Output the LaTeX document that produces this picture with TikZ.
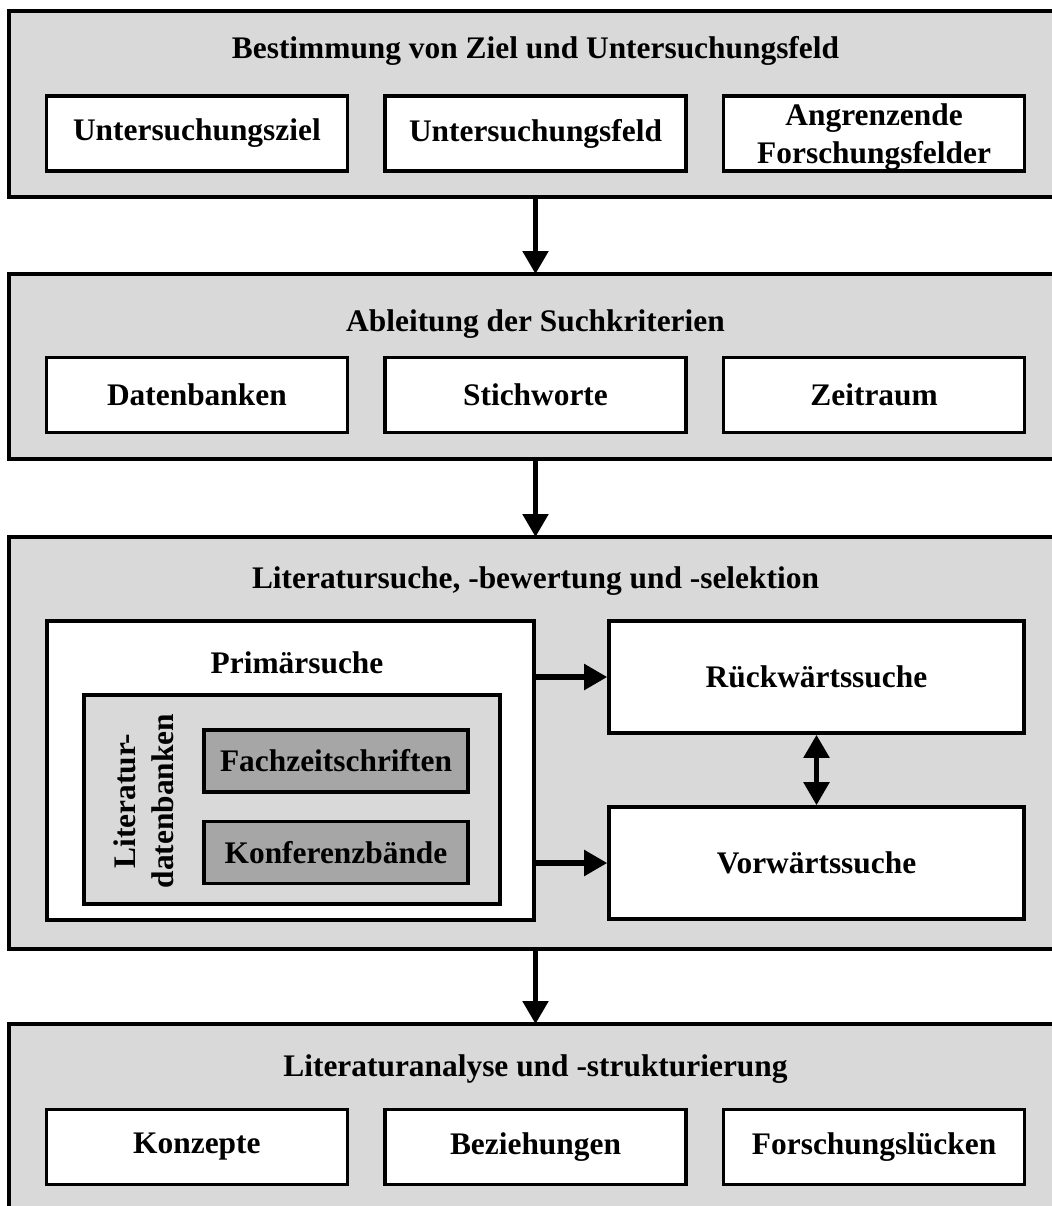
\documentclass[tikz,border=0pt]{standalone}
\usepackage{fontspec}
\setmainfont{Liberation Serif}
\usepackage{tikz}
\usetikzlibrary{arrows.meta,positioning,calc}
\definecolor{panelgray}{RGB}{217,217,217}
\definecolor{boxgray}{RGB}{166,166,166}

\begin{document}
\begin{tikzpicture}[x=0.5pt,y=-0.5pt,node distance=17pt,font=\fontsize{15.7}{19}\selectfont\bfseries,
panel/.style={draw,line width=2pt,fill=panelgray,anchor=north west,outer sep=0pt,inner sep=0pt,minimum width=526.5pt},
box/.style={draw,line width=1.8pt,fill=white,align=center,inner sep=1pt,minimum width=150.5pt,minimum height=37.5pt},
sub/.style={draw,line width=1.8pt,fill=boxgray,minimum width=132pt,minimum height=31pt,inner sep=1pt},
arr/.style={->,>={Triangle[length=11.5pt,width=12.5pt]},line width=2.6pt}]
\useasboundingbox (0,0) rectangle (1052,1206); \clip (0,0) rectangle (1052,1206);
% step 1
\node[panel,minimum height=93pt](p1) at (9,11){}; \node(t1) at (535.5,51){Bestimmung von Ziel und Untersuchungsfeld};
\node[box](feld) at (535.5,133.5){Untersuchungsfeld}; \node[box,left=of feld](ziel){Untersuchungsziel};
\node[box,right=of feld](angr){}; \node[align=center](angrtxt) at ($(angr)+(0,3.5)$){Angrenzende\\Forschungsfelder};
% step 2
\node[panel,minimum height=92.5pt](p2) at (9,274){}; \node(t2) at (535.5,324){Ableitung der Suchkriterien};
\node[box](stich) at (535.5,395){Stichworte}; \node[box,left=of stich](daten){Datenbanken};
\node[box,right=of stich](zeit){Zeitraum};
% step 3
\node[panel,minimum height=206pt](p3) at (9,537){}; \node(t3) at (535.5,581){Literatursuche, -bewertung und -selektion};
\node[box,minimum width=243.5pt,minimum height=149.5pt](prim) at (290.5,770.5){}; \node(tp) at (297,663){Primärsuche};
\node[draw,line width=1.8pt,fill=panelgray,minimum width=208pt,minimum height=104.5pt](db) at (292,799.5){};
\node[rotate=90,align=center](tdb) at (144,801){Literatur-\\datenbanken};
\node[sub](fach) at (336,761){Fachzeitschriften}; \node[sub](konf) at (336,852.5){Konferenzbände};
\node[box,minimum width=207.5pt,minimum height=56pt](rueck) at (816.5,677){Rückwärtssuche};
\node[box,minimum width=207.5pt,minimum height=56pt](vorw) at (816.5,863){Vorwärtssuche};
\draw[arr](prim.east |- rueck.west)--(rueck.west); \draw[arr](prim.east |- vorw.west)--(vorw.west);
\draw[arr,<->](rueck)--(vorw);
% step 4
\node[panel,minimum height=120pt](p4) at (9,1024){}; \node(t4) at (535.5,1069){Literaturanalyse und -strukturierung};
\node[box](bez) at (535.5,1147){Beziehungen}; \node[box,left=of bez](konz){Konzepte};
\node[box,right=of bez](luck){Forschungslücken};
\draw[arr](p1.south)--(p2.north); \draw[arr](p2.south)--(p3.north); \draw[arr](p3.south)--(p4.north);
\end{tikzpicture}
\end{document}
